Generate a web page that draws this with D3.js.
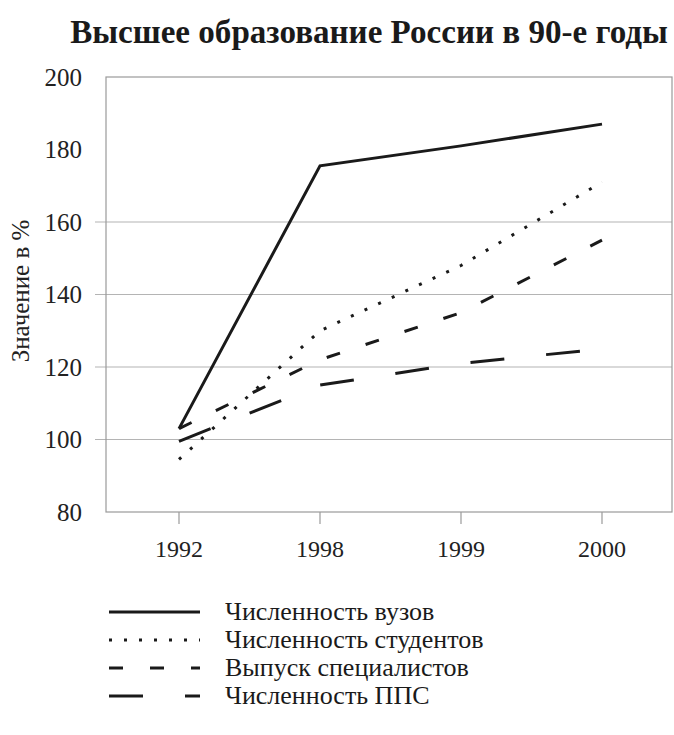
<!DOCTYPE html>
<html>
<head>
<meta charset="utf-8">
<script src="https://cdn.jsdelivr.net/npm/d3@7"></script>
<style>
  body { margin: 0; background: #fff; }
</style>
</head>
<body>
<div id="chart"></div>
<script>
// data
var years = ['1992', '1998', '1999', '2000'];
var seriesNames = ['Численность вузов', 'Численность студентов', 'Выпуск специалистов', 'Численность ППС'];
var vuzy = [103, 175.5, 181, 187];
var studenty = [94.5, 130, 148, 171];
var vypusk = [103, 122, 135, 155];
var pps = [99.5, 115, 121, 125];
var yTicks = [80, 100, 120, 140, 160, 180, 200];
var gridValues = [100, 120, 140, 160];

var serif = "'Liberation Serif'";
var width = 674, height = 735;
var svg = d3.select('#chart').append('svg')
  .attr('width', width)
  .attr('height', height)
  .style('display', 'block');

svg.append('rect').attr('width', width).attr('height', height).attr('fill', '#fff');

var x = d3.scalePoint().domain(years).range([179, 602]);
var y = d3.scaleLinear().domain([80, 200]).range([512, 77]);
var boxLeft = 106, boxRight = 672;

function serifText(sel, size, weight) {
  return sel.style('font-family', serif)
    .style('font-size', size + 'px')
    .style('font-weight', weight || 'normal');
}

// title, sized to span the same width as in the picture
var title = svg.append('text')
  .attr('x', 369).attr('y', 43)
  .attr('text-anchor', 'middle')
  .attr('fill', '#1a1a1a')
  .text('Высшее образование России в 90-е годы');
serifText(title, 28, 'bold');
var tw = title.node().getComputedTextLength();
title.style('font-size', Math.min(34, 28 * 598 / tw) + 'px');

// grid lines
svg.append('g').selectAll('line')
  .data(gridValues)
  .enter().append('line')
  .attr('x1', 95).attr('x2', boxRight)
  .attr('y1', function(d) { return y(d); })
  .attr('y2', function(d) { return y(d); })
  .attr('stroke', '#b4b4b4').attr('stroke-width', 1.2);

// plot box
svg.append('rect')
  .attr('x', boxLeft).attr('y', y(200))
  .attr('width', boxRight - boxLeft).attr('height', y(80) - y(200))
  .attr('fill', 'none').attr('stroke', '#9a9a9a').attr('stroke-width', 1.2);

// y axis labels
serifText(svg.append('g').selectAll('text')
  .data(yTicks)
  .enter().append('text')
  .attr('x', 82)
  .attr('y', function(d) { return y(d); })
  .attr('dy', '0.35em')
  .attr('text-anchor', 'end')
  .attr('fill', '#222')
  .text(function(d) { return d; }), 25);

// x axis ticks and labels
var xAxis = svg.append('g');
xAxis.selectAll('line')
  .data(years)
  .enter().append('line')
  .attr('x1', function(d) { return x(d); })
  .attr('x2', function(d) { return x(d); })
  .attr('y1', y(80)).attr('y2', y(80) + 12)
  .attr('stroke', '#9a9a9a').attr('stroke-width', 1.2);
serifText(xAxis.selectAll('text')
  .data(years)
  .enter().append('text')
  .attr('x', function(d) { return x(d); })
  .attr('y', 557)
  .attr('text-anchor', 'middle')
  .attr('fill', '#222')
  .text(function(d) { return d; }), 24);

// y axis title
serifText(svg.append('text')
  .attr('transform', 'translate(29,291) rotate(-90)')
  .attr('text-anchor', 'middle')
  .attr('fill', '#222')
  .text('Значение в %'), 25);

var series = [
  { name: seriesNames[0], values: vuzy, dash: null },
  { name: seriesNames[1], values: studenty, dash: '3,12' },
  { name: seriesNames[2], values: vypusk, dash: '14,27' },
  { name: seriesNames[3], values: pps, dash: '34,42' }
];

var line = d3.line()
  .x(function(d, i) { return x(years[i]); })
  .y(function(d) { return y(d); });

svg.append('g').selectAll('path')
  .data(series)
  .enter().append('path')
  .attr('d', function(d) { return line(d.values); })
  .attr('fill', 'none')
  .attr('stroke', '#1a1a1a')
  .attr('stroke-width', 3)
  .attr('stroke-dasharray', function(d) { return d.dash; });

// legend
var legendY = [612, 640, 668, 696];
var legend = svg.append('g').selectAll('g')
  .data(series)
  .enter().append('g')
  .attr('transform', function(d, i) { return 'translate(0,' + legendY[i] + ')'; });

legend.append('line')
  .attr('x1', 109).attr('x2', 200)
  .attr('y1', 0).attr('y2', 0)
  .attr('stroke', '#1a1a1a')
  .attr('stroke-width', 3)
  .attr('stroke-dasharray', function(d) { return d.dash; });

serifText(legend.append('text')
  .attr('x', 225).attr('y', 0)
  .attr('dy', '0.32em')
  .attr('fill', '#1a1a1a')
  .text(function(d) { return d.name; }), 26);
</script>
</body>
</html>
